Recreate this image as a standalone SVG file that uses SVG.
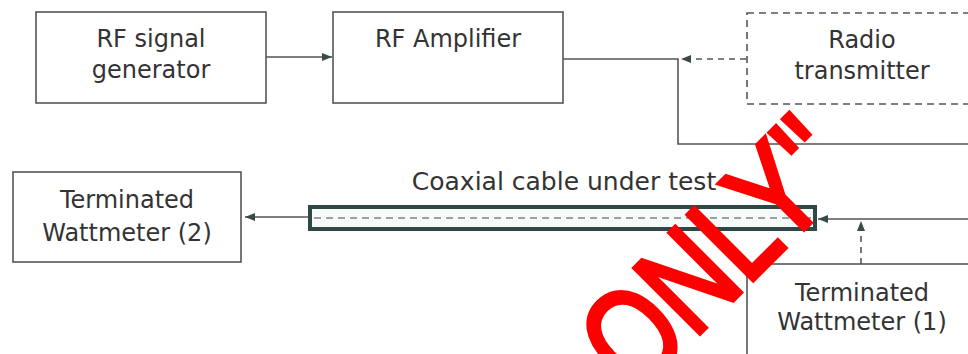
<svg xmlns="http://www.w3.org/2000/svg" width="968" height="354" viewBox="0 0 968 354">
<style>
.box{fill:#fff;stroke:#555;stroke-width:1.6}
.dbox{fill:#fff;stroke:#555;stroke-width:1.6;stroke-dasharray:7 5}
.lbl{font-family:"DejaVu Sans",Verdana,sans-serif;font-size:24px;fill:#333;text-anchor:middle}
.ln{fill:none;stroke:#555;stroke-width:1.6}
.dln{fill:none;stroke:#555;stroke-width:1.6;stroke-dasharray:6 5}
.wm{font-family:"Liberation Sans",Arial,sans-serif;font-size:134px;fill:#ff0000;stroke:#ff0000;stroke-width:5}
</style>
<defs>
<marker id="ah" viewBox="0 0 10 10" refX="10" refY="5" markerWidth="10" markerHeight="10" markerUnits="userSpaceOnUse" orient="auto">
<path d="M0,1 L10,5 L0,9 Z" fill="#3a4a48"/>
</marker>
</defs>
<g id="connectors">
<line class="ln" x1="266" y1="57" x2="332" y2="57" marker-end="url(#ah)"/>
<polyline class="ln" points="563,59 678,59 678,144 968,144"/>
<line class="dln" x1="746" y1="59" x2="681" y2="59" marker-end="url(#ah)"/>
<line class="ln" x1="309" y1="217" x2="245" y2="217" marker-end="url(#ah)"/>
<line class="ln" x1="968" y1="219" x2="818" y2="219" marker-end="url(#ah)"/>
<line class="dln" x1="861" y1="264" x2="861" y2="221" marker-end="url(#ah)"/>
</g>
<g id="rf-signal-generator">
<rect class="box" x="36" y="12" width="230" height="91"/>
<text class="lbl" x="151" y="47">RF signal</text>
<text class="lbl" x="151" y="78">generator</text>
</g>
<g id="rf-amplifier">
<rect class="box" x="333" y="12" width="230" height="91"/>
<text class="lbl" x="448" y="47">RF Amplifier</text>
</g>
<g id="radio-transmitter">
<rect class="dbox" x="747" y="13" width="240" height="91"/>
<text class="lbl" x="862" y="48">Radio</text>
<text class="lbl" x="862" y="79">transmitter</text>
</g>
<g id="wattmeter-2">
<rect class="box" x="13" y="172" width="228" height="90"/>
<text class="lbl" x="127" y="208">Terminated</text>
<text class="lbl" x="127" y="241">Wattmeter (2)</text>
</g>
<g id="coax-cable">
<rect x="310" y="207" width="505" height="22" fill="#f6faf9" stroke="#2f4846" stroke-width="4"/>
<line x1="314" y1="218" x2="811" y2="218" stroke="#7a8584" stroke-width="1.4" stroke-dasharray="7 5"/>
<text class="lbl" x="564" y="190" style="font-size:25px">Coaxial cable under test</text>
</g>
<g id="wattmeter-1">
<rect class="box" x="747" y="264" width="240" height="110"/>
<text class="lbl" x="862" y="301">Terminated</text>
<text class="lbl" x="862" y="330">Wattmeter (1)</text>
</g>
<g id="watermark">
<text class="wm" transform="translate(636 397) rotate(-45) scale(0.78 1)">ONLY"</text>
</g>
</svg>
